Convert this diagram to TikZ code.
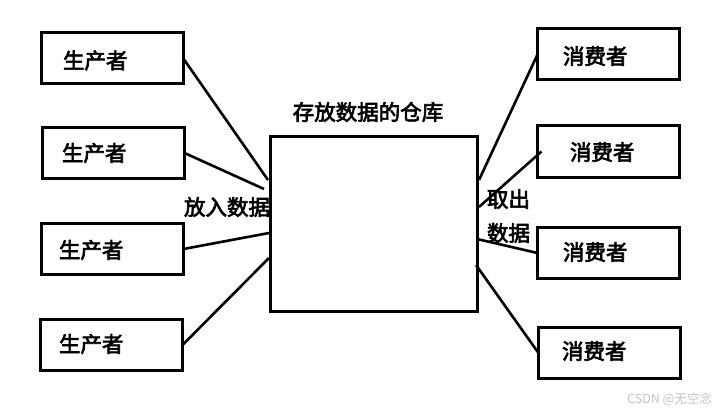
\documentclass[tikz,border=0pt]{standalone}
\usepackage{fontspec}
\setmainfont{Noto Sans CJK SC}[AutoFakeBold=3]
\definecolor{wmgray}{HTML}{C4C4C4}
\begin{document}
\begin{tikzpicture}[x=1pt,y=-1pt,
  boxshape/.style={draw, line width=3pt, minimum width=142pt, minimum height=51pt, inner sep=0pt, outer sep=0pt},
  lbl/.style={inner sep=0pt, outer sep=0pt, anchor=west, font=\fontsize{21.5}{24}\selectfont\bfseries},
  conn/.style={line width=2.6pt}]
\useasboundingbox[fill=white] (0,0) rectangle (724,412);
% warehouse
\node[draw, line width=3pt, minimum width=207pt, minimum height=175pt, inner sep=0pt, outer sep=0pt] (w) at (374,224) {};
\node[lbl, anchor=center] (wt) at (368,112) {存放数据的仓库};
% producers
\node[boxshape] (p1) at (112,58) {};
\node[boxshape] (p2) at (113.5,153) {};
\node[boxshape] (p3) at (112.5,249) {};
\node[boxshape] (p4) at (111.5,345) {};
\node[lbl] (p1t) at (63,60.5) {生产者};
\node[lbl] (p2t) at (62,153) {生产者};
\node[lbl] (p3t) at (59,250) {生产者};
\node[lbl] (p4t) at (59,344) {生产者};
% consumers
\node[boxshape] (c1) at (608.5,54.5) {};
\node[boxshape] (c2) at (608.5,151.5) {};
\node[boxshape] (c3) at (608.5,253) {};
\node[boxshape] (c4) at (609.5,353) {};
\node[lbl] (c1t) at (563,56) {消费者};
\node[lbl] (c2t) at (570,152) {消费者};
\node[lbl] (c3t) at (563,252) {消费者};
\node[lbl] (c4t) at (562,351) {消费者};
% labels
\node[lbl] (in) at (184,207) {放入数据};
\node[lbl] (out1) at (487,199) {取出};
\node[lbl] (out2) at (487,233) {数据};
% connection points on warehouse
\coordinate (wi1) at (268,180);
\coordinate (wi2) at (264,189);
\coordinate (wi3) at (269,233);
\coordinate (wi4) at (269,258);
\coordinate (wo1) at (479,180);
\coordinate (wo2) at (479,207);
\coordinate (wo3) at (477,239);
\coordinate (wo4) at (476,265);
\draw[conn] (p1.east) -- (wi1);
\draw[conn] (p2.east) -- (wi2);
\draw[conn] (p3.east) -- (wi3);
\draw[conn] (p4.east) -- (wi4);
\draw[conn] (wo1) -- (c1.west);
\draw[conn] (wo2) -- ([xshift=4pt]c2.west);
\draw[conn] (wo3) -- (c3.west);
\draw[conn] (wo4) -- (c4.west);
% watermark
\node[inner sep=0pt, anchor=west, text=wmgray, font=\fontsize{12.5}{14}\selectfont] (wm) at (627,399) {CSDN @无空念};
\end{tikzpicture}
\end{document}
